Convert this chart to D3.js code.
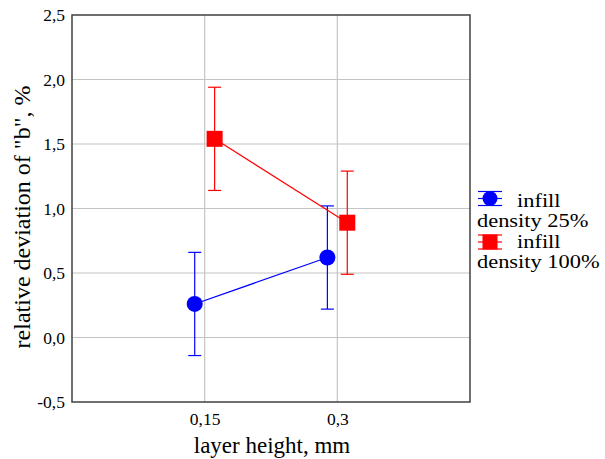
<!DOCTYPE html>
<html>
<head>
<meta charset="utf-8">
<script src="https://cdn.jsdelivr.net/npm/d3@7"></script>
<style>
  body { margin: 0; background: #fff; }
  svg text { font-family: "Liberation Serif", "Times New Roman", serif; fill: #000; }
</style>
</head>
<body>
<div id="chart"></div>
<script>
const categories = ["0,15", "0,3"];
const yTicks = [-0.5, 0, 0.5, 1.0, 1.5, 2.0, 2.5];
const seriesNames = ["infill density 25%", "infill density 100%"];
const means25 = [0.26, 0.62];
const err25 = [0.40, 0.40];
const means100 = [1.54, 0.89];
const err100 = [0.40, 0.40];

const width = 605, height = 459;
const margin = { top: 15, right: 135, bottom: 57, left: 72 };
const innerW = width - margin.left - margin.right;
const innerH = height - margin.top - margin.bottom;

const svg = d3.select("#chart").append("svg")
    .attr("width", width)
    .attr("height", height)
    .attr("font-family", "Liberation Serif");

const g = svg.append("g")
    .attr("transform", `translate(${margin.left}, ${margin.top})`);

// categories sit at 1 and 2 on a 0..3 axis
const xScale = d3.scaleLinear().domain([0, 3]).range([0, innerW]);
const yScale = d3.scaleLinear().domain([-0.5, 2.5]).range([innerH, 0]);

// grid
g.selectAll(".hgrid").data(yTicks.slice(1, -1)).enter().append("line")
    .attr("x1", 0).attr("x2", innerW)
    .attr("y1", d => yScale(d)).attr("y2", d => yScale(d))
    .attr("stroke", "#c4c4c4").attr("stroke-width", 1.2);

g.selectAll(".vgrid").data(categories).enter().append("line")
    .attr("x1", (d, i) => xScale(i + 1)).attr("x2", (d, i) => xScale(i + 1))
    .attr("y1", 0).attr("y2", innerH)
    .attr("stroke", "#c4c4c4").attr("stroke-width", 1.2);

// axes
const yAxis = d3.axisLeft(yScale).tickValues(yTicks)
    .tickFormat(d => d3.format(".1f")(d).replace(".", ",").replace("−", "-"))
    .tickSize(0).tickPadding(7);
const yG = g.append("g").call(yAxis).attr("font-family", null).attr("font-size", null);
yG.select(".domain").remove();
yG.selectAll("text").style("font-size", "17.5px");

const xAxis = d3.axisBottom(xScale).tickValues([1, 2])
    .tickFormat((d, i) => categories[i])
    .tickSize(0).tickPadding(11);
const xG = g.append("g").attr("transform", `translate(0, ${innerH})`).call(xAxis)
    .attr("font-family", null).attr("font-size", null);
xG.select(".domain").remove();
xG.selectAll("text").style("font-size", "17.5px");

// frame
g.append("rect")
    .attr("x", 0).attr("y", 0).attr("width", innerW).attr("height", innerH)
    .attr("fill", "none").attr("stroke", "#404040").attr("stroke-width", 1.5);

// axis labels
g.append("text")
    .attr("x", innerW / 2 + 1)
    .attr("y", innerH + 51)
    .attr("text-anchor", "middle")
    .style("font-size", "23px")
    .text("layer height, mm");

g.append("text")
    .attr("transform", "rotate(-90)")
    .attr("x", -(217 - margin.top))
    .attr("y", -margin.left + 30)
    .attr("text-anchor", "middle")
    .style("font-size", "24px")
    .text('relative deviation of "b", %');

const offset = 0.075;
const series = [
    { means: means25, errs: err25, color: "#0000ff", dx: -offset, shape: "circle" },
    { means: means100, errs: err100, color: "#ff0000", dx: offset, shape: "square" }
];

series.forEach(s => {
    const pts = s.means.map((m, i) => ({ x: i + 1 + s.dx, y: m, e: s.errs[i] }));

    g.append("path")
        .datum(pts)
        .attr("fill", "none")
        .attr("stroke", s.color)
        .attr("stroke-width", 1.2)
        .attr("d", d3.line().x(d => xScale(d.x)).y(d => yScale(d.y)));

    const eb = g.selectAll(null).data(pts).enter().append("g")
        .attr("stroke", s.color).attr("stroke-width", 1.2);
    eb.append("line")
        .attr("x1", d => xScale(d.x)).attr("x2", d => xScale(d.x))
        .attr("y1", d => yScale(d.y - d.e)).attr("y2", d => yScale(d.y + d.e));
    eb.append("line")
        .attr("x1", d => xScale(d.x) - 6.5).attr("x2", d => xScale(d.x) + 6.5)
        .attr("y1", d => yScale(d.y + d.e)).attr("y2", d => yScale(d.y + d.e));
    eb.append("line")
        .attr("x1", d => xScale(d.x) - 6.5).attr("x2", d => xScale(d.x) + 6.5)
        .attr("y1", d => yScale(d.y - d.e)).attr("y2", d => yScale(d.y - d.e));

    if (s.shape === "circle") {
        g.selectAll(null).data(pts).enter().append("circle")
            .attr("cx", d => xScale(d.x)).attr("cy", d => yScale(d.y))
            .attr("r", 8).attr("fill", s.color);
    } else {
        g.selectAll(null).data(pts).enter().append("rect")
            .attr("x", d => xScale(d.x) - 8).attr("y", d => yScale(d.y) - 8)
            .attr("width", 16).attr("height", 16).attr("fill", s.color);
    }
});

// legend
const legend = svg.append("g").attr("transform", "translate(478, 0)");
const legendRows = [
    { y: 198.5, color: "#0000ff", shape: "circle", name: seriesNames[0] },
    { y: 242, color: "#ff0000", shape: "square", name: seriesNames[1] }
];
legendRows.forEach((r, k) => {
    const lg = legend.append("g").attr("stroke", r.color).attr("stroke-width", 1.2);
    [-7, 0, 7].forEach(o => {
        lg.append("line").attr("x1", 0).attr("x2", 24).attr("y1", r.y + o).attr("y2", r.y + o);
    });
    if (r.shape === "circle") {
        legend.append("circle").attr("cx", 12).attr("cy", r.y).attr("r", 7.5).attr("fill", r.color);
    } else {
        legend.append("rect").attr("x", 4.5).attr("y", r.y - 7.5).attr("width", 15).attr("height", 15).attr("fill", r.color);
    }
    // legend text in the reference is a bit wide for its height
    const words = r.name.split(" ");
    const base = 206.5 + k * 41;
    legend.append("text").attr("transform", `translate(39, ${base}) scale(1.15, 1)`)
        .style("font-size", "19.5px").text(words[0]);
    legend.append("text").attr("transform", `translate(-1, ${base + 20.5}) scale(1.15, 1)`)
        .style("font-size", "19.5px").text(words.slice(1).join(" "));
});
</script>
</body>
</html>
